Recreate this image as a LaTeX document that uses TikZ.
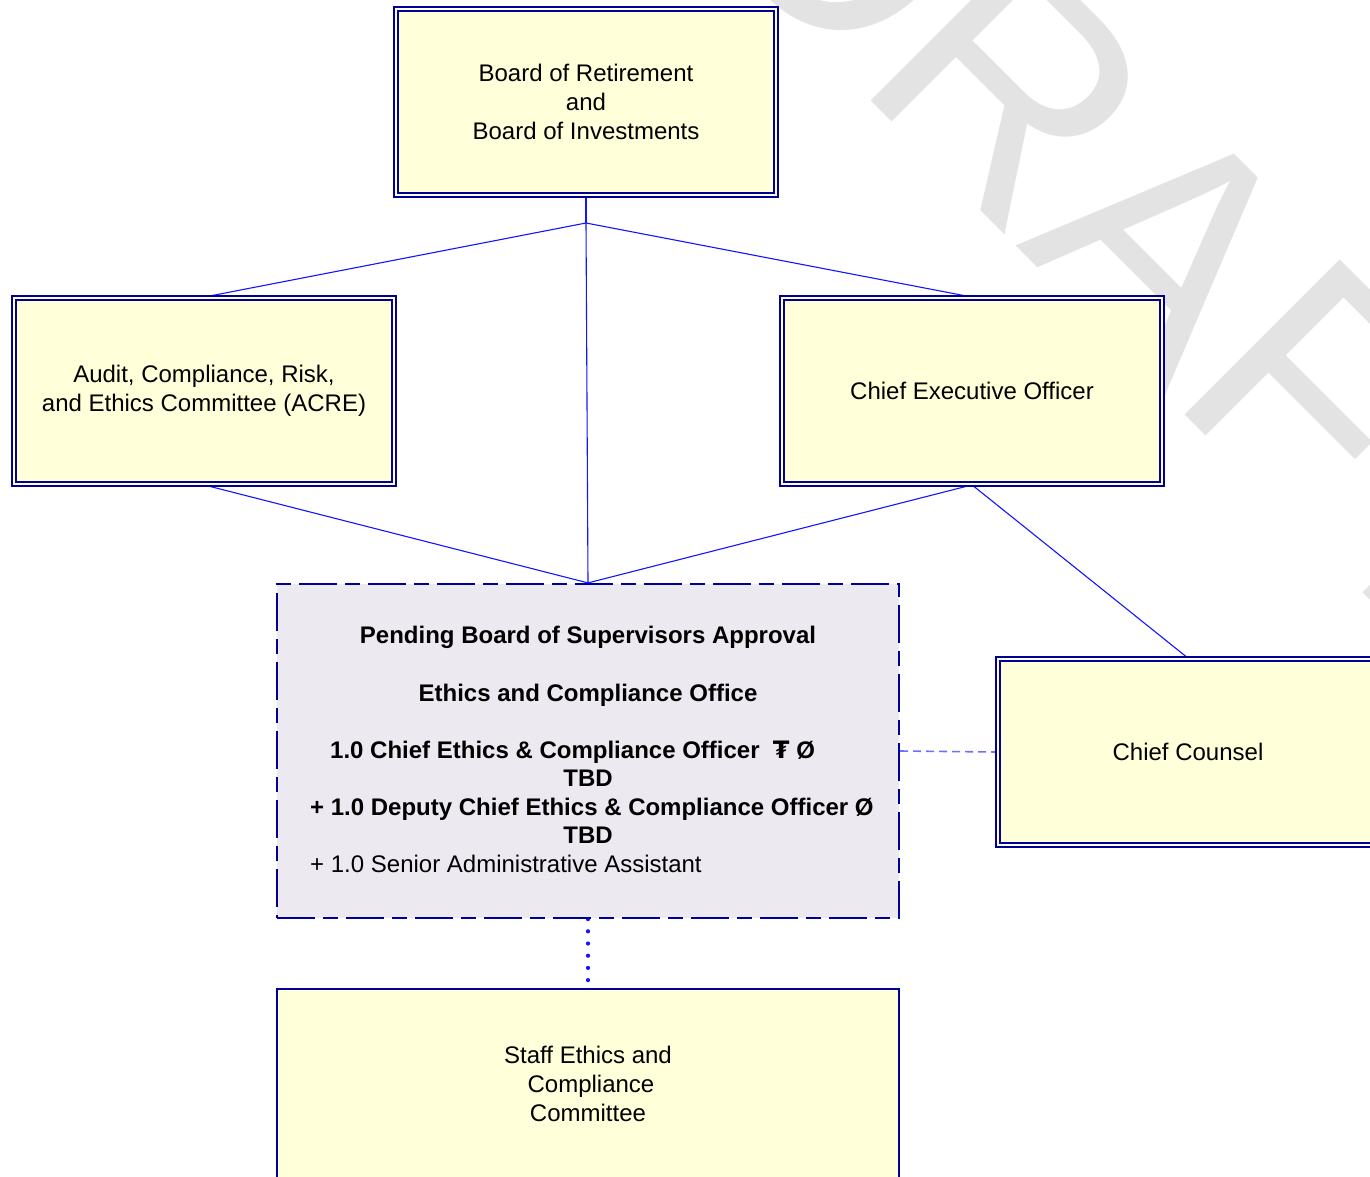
\documentclass[tikz,border=0pt]{standalone}
\usepackage{fontspec}
\setmainfont{Liberation Sans}
\newfontfamily\symfont{DejaVu Sans}
\usetikzlibrary{backgrounds}

\definecolor{boxfill}{RGB}{255,255,217}
\definecolor{pendfill}{RGB}{236,233,241}
\definecolor{navyline}{RGB}{0,0,153}
\definecolor{linkblue}{RGB}{20,20,255}
\definecolor{softblue}{RGB}{110,110,255}
\definecolor{wmgray}{RGB}{227,227,227}

\begin{document}
\begin{tikzpicture}[x=1pt,y=-1pt,
  txt/.style={font=\fontsize{24}{29}\selectfont},
  unit/.style={txt, draw=navyline, line width=1.8pt, double=boxfill,
    double distance=2.4pt, fill=boxfill, minimum width=380pt,
    minimum height=186pt, inner sep=0pt, align=center},
  pending/.style={draw=navyline, line width=2.2pt, fill=pendfill,
    dash pattern=on 38pt off 8pt on 15pt off 8pt,
    minimum width=622pt, minimum height=334pt, inner sep=0pt},
  plainbox/.style={txt, draw=navyline, line width=2pt, fill=boxfill,
    minimum width=622pt, minimum height=190pt, inner sep=0pt, align=center},
  btxt/.style={txt, inner sep=0pt, font=\fontsize{24}{29}\selectfont\bfseries},
  link/.style={draw=linkblue, line width=1.1pt},
  adv/.style={draw=softblue, line width=1.6pt, dash pattern=on 8pt off 5pt},
  dots/.style={draw=linkblue, line width=4.2pt, line cap=round,
    dash pattern=on 0pt off 12.2pt},
  watermark/.style={text=wmgray, inner sep=0pt,
    font=\fontsize{319}{319}\selectfont}
]
\useasboundingbox (0,0) rectangle (1370,1177);
\clip (0,0) rectangle (1370,1177);

% organisation boxes
\node[unit] (board) at (586,102) {Board of Retirement\\and\\Board of Investments};
\node[unit] (acre) at (204,391) {Audit, Compliance, Risk,\\and Ethics Committee (ACRE)};
\node[unit] (ceo) at (972,391) {Chief Executive Officer};
\node[unit] (counsel) at (1188,752) {Chief Counsel};

% proposed office
\node[pending] (office) at (588,751) {};
\node[btxt, anchor=base] (pendtitle) at (588,643) {Pending Board of Supervisors Approval};
\node[btxt, anchor=base] (officename) at (588,701) {Ethics and Compliance Office};
\node[btxt, anchor=base west] (chiefpos) at (330,758) {1.0 Chief Ethics \& Compliance Officer\ \ {\symfont\bfseries ₮} Ø};
\node[btxt, anchor=base] (tbdone) at (588,786) {TBD};
\node[btxt, anchor=base west] (deputypos) at (310,815) {+ 1.0 Deputy Chief Ethics \& Compliance Officer Ø};
\node[btxt, anchor=base] (tbdtwo) at (588,843) {TBD};
\node[txt, inner sep=0pt, anchor=base west] (assistpos) at (310,872) {+ 1.0 Senior Administrative Assistant};

% staff committee
\node[plainbox] (staff) at (588,1084) {Staff Ethics and\\\hspace*{6pt}Compliance\\Committee};

\begin{pgfonlayer}{background}
  \begin{scope}
    \clip (0,0) rectangle (1370,1177);
    \node[watermark, rotate=-45, anchor=base] (draftmark) at (1066,296) {DRAFT};
  \end{scope}
  \coordinate (hub) at (586,223);
  \draw[link] (board.south) -- (hub);
  \draw[link] (hub) -- (acre.north);
  \draw[link] (hub) -- (ceo.north);
  \draw[link] (hub) -- (office.north);
  \draw[link] (acre.south) -- (office.north);
  \draw[link] (ceo.south) -- (office.north);
  \draw[link] (ceo.south) -- (counsel.north);
  \draw[adv] (office.east) -- (counsel.west);
  \draw[dots] (office.south) -- (staff.north);
\end{pgfonlayer}
\end{tikzpicture}
\end{document}
